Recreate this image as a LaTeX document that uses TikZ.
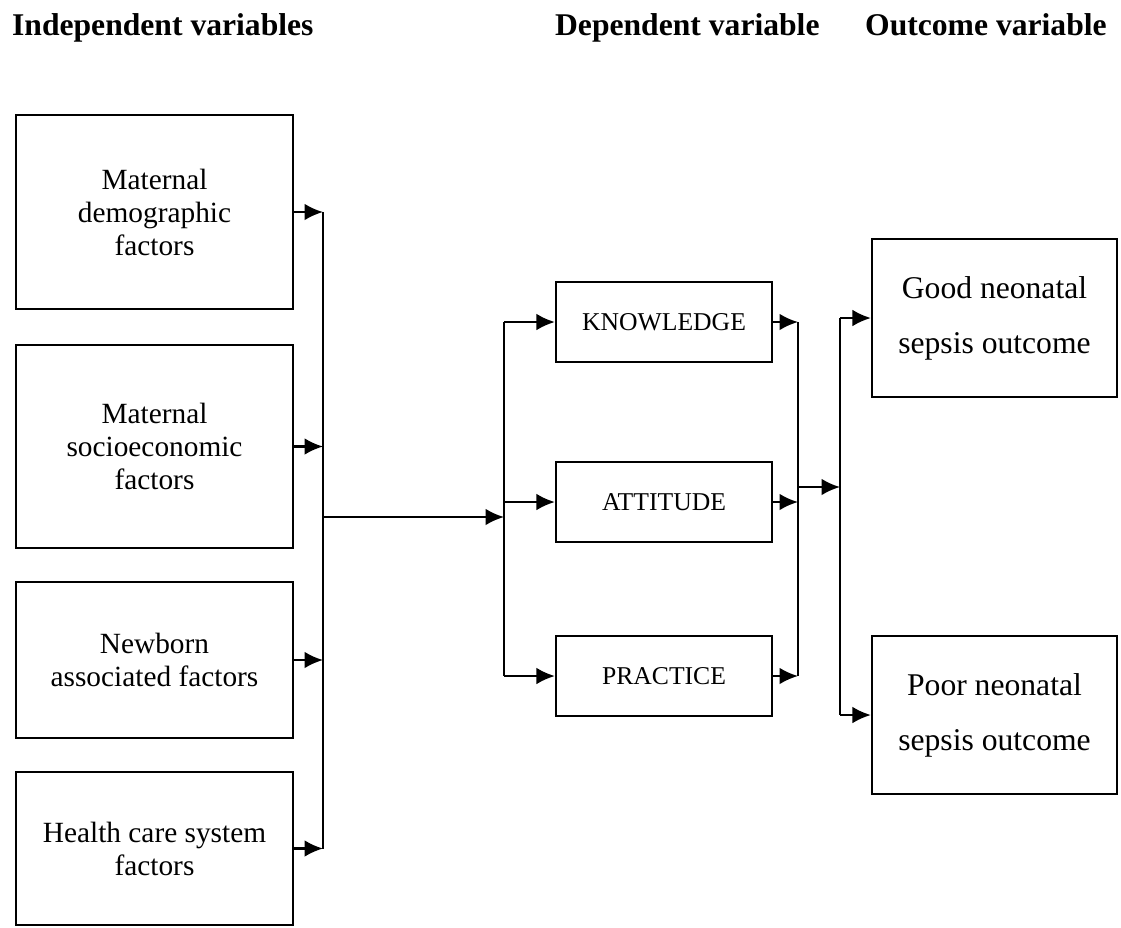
\documentclass[tikz,border=0pt]{standalone}
\usepackage{fontspec}
\setmainfont{Liberation Serif}
\usepackage{tikz}
\usetikzlibrary{arrows.meta,positioning,calc}

\begin{document}
\begin{tikzpicture}[x=0.02cm,y=-0.02cm,>={Latex[length=10.5pt,width=9.5pt]},line width=1.3pt,
  fbox/.style={draw,inner sep=0pt,align=center,minimum width=5.54cm,font=\fontsize{16.7}{18.8}\selectfont},
  kbox/.style={draw,inner sep=0pt,minimum width=4.32cm,minimum height=1.6cm,font=\fontsize{14.6}{17}\selectfont},
  obox/.style={draw,inner sep=0pt,align=center,minimum width=4.9cm,minimum height=3.16cm,font=\fontsize{18}{31.3}\selectfont},
  head/.style={anchor=base west,inner sep=0pt,font=\fontsize{18}{21}\selectfont\bfseries}]
  \useasboundingbox (0,0) rectangle (1121,927);
  \node[head] (indep) at (11,35) {Independent variables};
  \node[head] (dep) at (554,35) {Dependent variable};
  \node[head] (outc) at (864,35) {Outcome variable};
  % independent factors
  \node[fbox,minimum height=3.88cm] (mdem) at (154.5,212) {Maternal\\demographic\\factors};
  \node[fbox,minimum height=4.06cm] (msoc) at (154.5,446.5) {Maternal\\socioeconomic\\factors};
  \node[fbox,minimum height=3.12cm] (newb) at (154.5,660) {Newborn\\associated factors};
  \node[fbox,minimum height=3.06cm] (hcs) at (154.5,848.5) {Health care system\\factors};
  \coordinate (in) at (323,517);
  \coordinate (split) at (504,517);
  \draw (mdem.east -| in) -- (hcs.east -| in);
  \foreach \n in {mdem,msoc,newb,hcs} \draw[->] (\n.east) -- (\n.east -| in);
  \draw[->] (in) -- (split);
  % KAP
  \node[kbox] (know) at (664,322) {KNOWLEDGE};
  \node[kbox] (att) at (664,502) {ATTITUDE};
  \node[kbox] (prac) at (664,676) {PRACTICE};
  \draw (know.west -| split) -- (prac.west -| split);
  \foreach \n in {know,att,prac} \draw[->] (\n.west -| split) -- (\n.west);
  \coordinate (merge) at (798,487);
  \coordinate (out) at (840,487);
  \draw (know.east -| merge) -- (prac.east -| merge);
  \foreach \n in {know,att,prac} \draw[->] (\n.east) -- (\n.east -| merge);
  \draw[->] (merge) -- (out);
  % outcome
  \node[obox] (good) at (994.5,318) {Good neonatal\\sepsis outcome};
  \node[obox] (poor) at (994.5,715) {Poor neonatal\\sepsis outcome};
  \draw (good.west -| out) -- (poor.west -| out);
  \foreach \n in {good,poor} \draw[->] (\n.west -| out) -- (\n.west);
\end{tikzpicture}
\end{document}
